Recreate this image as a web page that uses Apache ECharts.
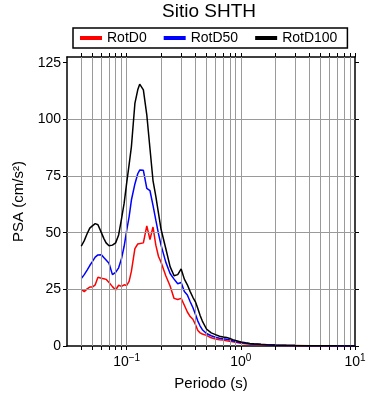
<!DOCTYPE html>
<html>
<head>
<meta charset="utf-8">
<script src="https://cdn.jsdelivr.net/npm/echarts@6/dist/echarts.min.js"></script>
<style>
  html, body { margin: 0; padding: 0; background: #fff; }
  #chart { width: 390px; height: 400px; }
</style>
</head>
<body>
<div id="chart"></div>
<script>
// periodos (s)
const periods = [0.04, 0.0425, 0.045, 0.0475, 0.05, 0.053, 0.056, 0.06, 0.063, 0.066, 0.07, 0.075, 0.08, 0.085, 0.09, 0.095,
  0.1, 0.105, 0.11, 0.118, 0.125, 0.13, 0.14, 0.15, 0.16, 0.17, 0.18, 0.19, 0.2, 0.22, 0.24, 0.26, 0.28, 0.3, 0.32, 0.34,
  0.36, 0.38, 0.4, 0.42, 0.44, 0.46, 0.5, 0.55, 0.6, 0.65, 0.7, 0.75, 0.8, 0.85, 0.9, 1.0, 1.1, 1.2, 1.3, 1.5, 1.7, 2.0,
  2.5, 3.0, 4.0, 5.0, 7.0, 10.0]

// PSA (cm/s2)
const rotD0 = [25, 24, 25.2, 26, 26, 27, 30.3, 29.9, 29.7, 29.4, 28, 26.2, 24.7, 26.8, 26.3, 27,
  26.7, 28.5, 33, 43, 45, 45.3, 45.5, 53, 47, 52.5, 44.5, 39.5, 37, 31, 26.5, 21, 20.5, 21, 18, 15,
  13, 11.8, 9.5, 6.8, 5.8, 5.3, 4.7, 3.6, 3.1, 2.8, 2.6, 2.3, 2.1, 1.9, 1.6, 1.2, 1.0, 0.85, 0.7, 0.55, 0.42, 0.32,
  0.22, 0.17, 0.1, 0.07, 0.04, 0.03]
const rotD50 = [29.8, 31.5, 33.5, 35.5, 37.2, 39.2, 40.2, 40.3, 39, 37.9, 36.5, 31.5, 32.5, 34.5, 38.5, 44,
  51, 57, 64.4, 71.5, 76, 77.6, 77.5, 69.5, 68.5, 62, 55.5, 49.5, 44.5, 37, 32, 29.5, 27.5, 28, 24, 22.5,
  19.5, 17, 14, 11, 8.8, 7.2, 5.5, 4.5, 3.9, 3.4, 3.2, 3.0, 2.7, 2.3, 1.9, 1.5, 1.2, 1.0, 0.85, 0.65, 0.5, 0.38,
  0.26, 0.2, 0.12, 0.09, 0.05, 0.035]
const rotD100 = [44, 46.5, 49.5, 52, 53, 54, 53.5, 50, 47.5, 45.5, 44.2, 44.5, 45.5, 49, 56, 63,
  72, 80, 88, 107, 113, 115.5, 113, 102, 87, 73, 66, 58.5, 51.5, 43, 35, 31, 31.5, 34, 29.5, 27,
  24, 21.5, 19.5, 16.5, 13.5, 11, 7.5, 5.8, 5.0, 4.3, 4.0, 3.8, 3.3, 2.8, 2.4, 1.8, 1.4, 1.1, 0.95, 0.75, 0.6, 0.45,
  0.3, 0.22, 0.14, 0.1, 0.06, 0.04]

// ticks y rejilla
const xTicks = [0.04, 0.05, 0.06, 0.07, 0.08, 0.09, 0.1, 0.2, 0.3, 0.4, 0.5, 0.6, 0.7, 0.8, 0.9, 1,
  2, 3, 4, 5, 6, 7, 8, 9, 10]
const xLabels = [0.1, 1, 10]
const yTicks = [0, 25, 50, 75, 100, 125]
const yGrid = [25, 50, 75, 100]

const FONT = 'Liberation Sans'

const pairs = function (vals) {
  return periods.map((t, i) => [t, vals[i]])
}

const supLabel = function (v) {
  const e = Math.round(Math.log10(v))
  return '10{sup|' + (e < 0 ? '\u2212' + (-e) : e) + '}'
}

const axisBase = {
  type: 'log',
  logBase: 10,
  min: 0.03,
  max: 10,
  axisLine: { show: true, onZero: false, lineStyle: { color: '#000', width: 1.5 } },
  axisTick: { show: true, inside: false, length: 4, customValues: xTicks, lineStyle: { color: '#000', width: 1 } },
  splitLine: { show: false },
  minorTick: { show: false },
  minorSplitLine: { show: false }
}

const chart = echarts.init(document.getElementById('chart'), null, { renderer: 'canvas' })

const option = {
  backgroundColor: '#fff',
  animation: false,
  textStyle: { fontFamily: FONT },
  title: {
    text: 'Sitio SHTH',
    left: 162,
    top: 2,
    padding: 0,
    textStyle: { fontFamily: FONT, fontSize: 19, fontWeight: 'normal', color: '#000' }
  },
  legend: {
    data: ['RotD0', 'RotD50', 'RotD100'],
    left: 73,
    top: 28,
    orient: 'horizontal',
    icon: 'rect',
    itemWidth: 22,
    itemHeight: 4,
    itemGap: 17,
    padding: [3, 10, 3, 7],
    borderColor: '#000',
    borderWidth: 1.5,
    textStyle: { fontFamily: FONT, fontSize: 14, color: '#000' }
  },
  grid: { left: 67, right: 35, top: 57, bottom: 54 },
  xAxis: [
    Object.assign({}, axisBase, {
      position: 'bottom',
      name: 'Periodo (s)',
      nameLocation: 'middle',
      nameGap: 30,
      nameTextStyle: { fontFamily: FONT, fontSize: 15, color: '#000' },
      axisLabel: {
        show: true,
        customValues: xLabels,
        margin: 7,
        color: '#000',
        fontFamily: FONT,
        fontSize: 14,
        formatter: supLabel,
        rich: { sup: { fontSize: 10, fontFamily: FONT, color: '#000', verticalAlign: 'bottom', padding: [0, 0, 9, 0] } }
      }
    }),
    Object.assign({}, axisBase, {
      position: 'top',
      axisLabel: { show: false }
    })
  ],
  yAxis: [
    {
      type: 'value',
      position: 'left',
      min: 0,
      max: 127.5,
      interval: 25,
      name: 'PSA (cm/s\u00b2)',
      nameLocation: 'middle',
      nameGap: 38,
      nameTextStyle: { fontFamily: FONT, fontSize: 15, color: '#000' },
      axisLine: { show: true, onZero: false, lineStyle: { color: '#000', width: 1.5 } },
      axisTick: { show: true, length: 4, customValues: yTicks, lineStyle: { color: '#000', width: 1 } },
      axisLabel: {
        customValues: yTicks,
        margin: 6,
        color: '#000',
        fontFamily: FONT,
        fontSize: 14,
        formatter: v => (v % 25 === 0 ? v : '')
      },
      splitLine: { show: false }
    },
    {
      type: 'value',
      position: 'right',
      min: 0,
      max: 127.5,
      interval: 25,
      axisLine: { show: true, onZero: false, lineStyle: { color: '#000', width: 1.5 } },
      axisTick: { show: true, length: 4, customValues: yTicks, lineStyle: { color: '#000', width: 1 } },
      axisLabel: { show: false },
      splitLine: { show: false }
    }
  ],
  series: [
    {
      // rejilla
      name: 'grid',
      type: 'line',
      data: [],
      z: 1,
      silent: true,
      markLine: {
        silent: true,
        symbol: 'none',
        label: { show: false },
        animation: false,
        lineStyle: { color: '#9a9a9a', width: 1, type: 'solid' },
        emphasis: { disabled: true },
        data: xTicks.filter(v => v < 10).map(v => ({ xAxis: v })).concat(yGrid.map(v => ({ yAxis: v })))
      }
    },
    {
      name: 'RotD0',
      type: 'line',
      data: pairs(rotD0),
      showSymbol: false,
      z: 3,
      color: '#ff0000',
      lineStyle: { color: '#ff0000', width: 1.5 }
    },
    {
      name: 'RotD50',
      type: 'line',
      data: pairs(rotD50),
      showSymbol: false,
      z: 4,
      color: '#0000ff',
      lineStyle: { color: '#0000ff', width: 1.5 }
    },
    {
      name: 'RotD100',
      type: 'line',
      data: pairs(rotD100),
      showSymbol: false,
      z: 5,
      color: '#000000',
      lineStyle: { color: '#000000', width: 1.5 }
    }
  ]
}

chart.setOption(option)
</script>
</body>
</html>
